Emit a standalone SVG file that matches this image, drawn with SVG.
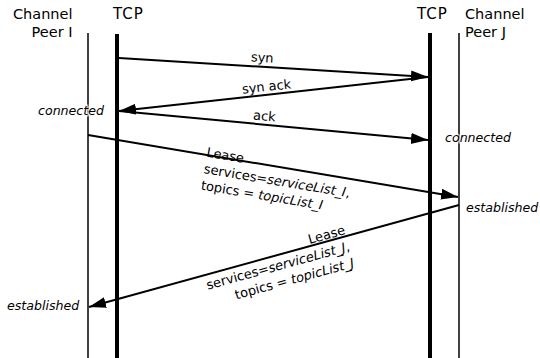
<svg xmlns="http://www.w3.org/2000/svg" width="540" height="358" viewBox="0 0 540 358">
<style>
text{font-family:"DejaVu Sans","Liberation Sans",sans-serif;fill:#000}
.hdr{font-size:14.5px}
.tcp{font-size:15px;letter-spacing:1px}
.lbl{font-size:13px}
.st{font-size:12.6px;font-style:italic;stroke:#fff;stroke-opacity:0.6;stroke-width:3;paint-order:stroke}
.it{font-style:italic}
.thin{stroke:#000;stroke-width:1.5}
.thick{stroke:#000;stroke-width:4}
.msg{stroke:#000;stroke-width:2;fill:none;marker-end:url(#ah)}
</style>
<defs>
<marker id="ah" markerUnits="userSpaceOnUse" markerWidth="18" markerHeight="12" refX="17" refY="5.5" orient="auto">
<path d="M0,0 L17,5.5 L0,11 z" fill="#000"/>
</marker>
</defs>
<g id="peerI">
<text class="hdr" x="72.5" y="18.5" text-anchor="end">Channel</text>
<text class="hdr" x="72.5" y="36.5" text-anchor="end">Peer I</text>
<line class="thin" x1="88" y1="33" x2="88" y2="358"/>
</g>
<g id="tcpI">
<text class="tcp" x="113" y="18.5">TCP</text>
<line class="thick" x1="117" y1="34" x2="117" y2="358"/>
</g>
<g id="tcpJ">
<text class="tcp" x="417" y="18.5">TCP</text>
<line class="thick" x1="430" y1="33" x2="430" y2="358"/>
</g>
<g id="peerJ">
<text class="hdr" x="465" y="18.5">Channel</text>
<text class="hdr" x="465" y="36.5">Peer J</text>
<line class="thin" x1="459" y1="33" x2="459" y2="358"/>
</g>
<g id="connectors">
<line class="msg" x1="119" y1="58" x2="428" y2="77"/>
<text class="lbl" x="262" y="62" text-anchor="middle" transform="rotate(3.5 262 62)">syn</text>
<line class="msg" x1="428" y1="77" x2="119" y2="111"/>
<text class="lbl" x="267" y="91" text-anchor="middle" transform="rotate(-6.2 267 91)">syn ack</text>
<line class="msg" x1="119" y1="111" x2="428" y2="140"/>
<text class="lbl" x="264" y="120.5" text-anchor="middle" transform="rotate(5.3 264 120.5)">ack</text>
<line class="msg" x1="88" y1="135" x2="458" y2="197"/>
<g transform="translate(206 156.5) rotate(9.5)">
<text class="lbl" x="0" y="0">Lease</text>
<text class="lbl" x="0" y="16.7">services=<tspan class="it">serviceList_I</tspan>,</text>
<text class="lbl" x="0" y="33.4">topics = <tspan class="it">topicList_I</tspan></text>
</g>
<line class="msg" x1="459" y1="205" x2="89" y2="307"/>
<g transform="translate(346 234) rotate(-15.4)">
<text class="lbl" x="0" y="0" text-anchor="end">Lease</text>
<text class="lbl" x="0" y="17" text-anchor="end">services=<tspan class="it">serviceList_J</tspan>,</text>
<text class="lbl" x="0" y="34" text-anchor="end">topics = <tspan class="it">topicList_J</tspan></text>
</g>
</g>
<g id="states">
<text class="st" x="38" y="115">connected</text>
<text class="st" x="445" y="141.5">connected</text>
<text class="st" x="466" y="212">established</text>
<text class="st" x="7" y="310">established</text>
</g>
</svg>
